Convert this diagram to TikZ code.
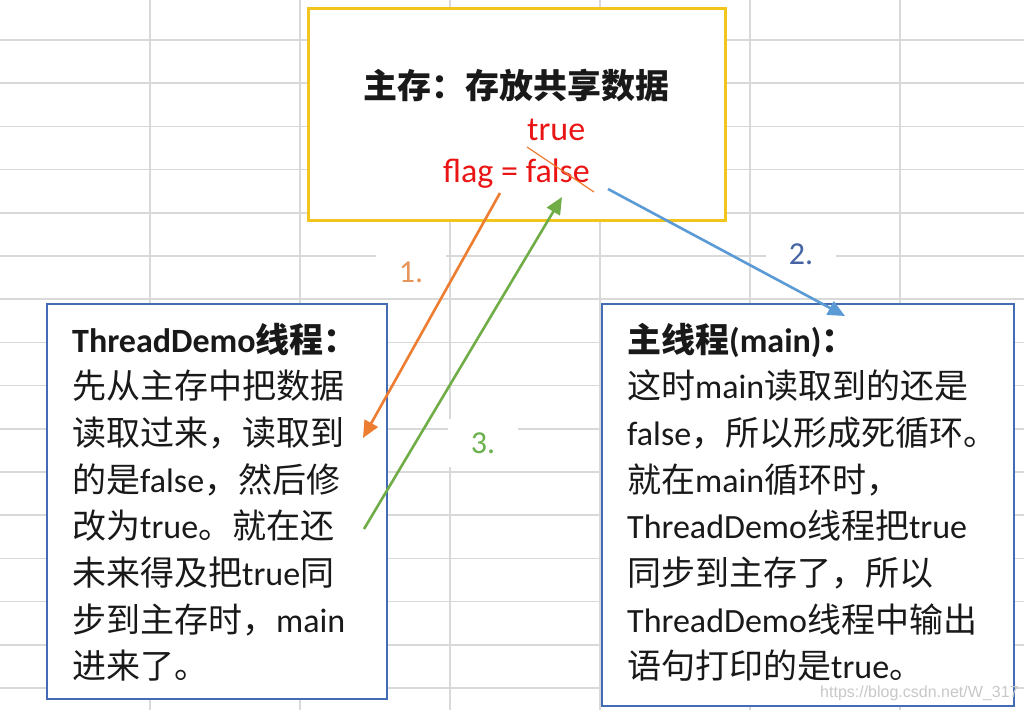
\documentclass[tikz,border=0pt]{standalone}
\usepackage{fontspec}
\setmainfont{Carlito}
\newfontfamily\cjk{Noto Sans CJK SC}
\newfontfamily\wmfont{Liberation Sans}
\usetikzlibrary{arrows.meta}
\definecolor{gridgray}{RGB}{217,217,217}
\definecolor{memyellow}{RGB}{242,196,30}
\definecolor{boxblue}{RGB}{68,108,180}
\definecolor{arrorange}{RGB}{237,125,49}
\definecolor{arrblue}{RGB}{91,155,213}
\definecolor{arrgreen}{RGB}{112,173,71}
\definecolor{lblorange}{RGB}{230,150,90}
\definecolor{lblblue}{RGB}{70,100,165}
\definecolor{lblgreen}{RGB}{106,176,76}
\definecolor{txt}{RGB}{25,25,25}
\definecolor{flagred}{RGB}{235,20,20}
\definecolor{wm}{RGB}{200,200,200}
\newcommand\zhc[1]{{\cjk #1}}
\begin{document}
\begin{tikzpicture}[x=1pt,y=-1pt,
  gridline/.style={draw=gridgray,line width=1.6pt},
  membox/.style={draw=memyellow,line width=3pt,fill=white,inner sep=0pt},
  threadbox/.style={draw=boxblue,line width=2.8pt,fill=white,inner sep=0pt},
  bodyline/.style={anchor=base west,inner sep=0pt,text=txt,font=\fontsize{34}{40}\selectfont},
  redtext/.style={anchor=base west,inner sep=0pt,text=flagred,font=\fontsize{34}{40}\selectfont},
  numlabel/.style={fill=white,minimum width=70pt,minimum height=48pt,inner sep=0pt,font=\fontsize{32}{36}\selectfont},
  conn/.style={line width=2.6pt,-{Triangle[length=17pt,width=15pt]}},
]
\useasboundingbox (0,0) rectangle (1024,710);
\fill[white] (0,0) rectangle (1024,710);
% spreadsheet grid
\foreach \x in {150,300,450,600,750,900}
  \draw[gridline] (\x,0) -- (\x,710);
\foreach \k in {0,...,15}
  \draw[gridline] (0,{40+43.2*\k}) -- (1024,{40+43.2*\k});

% boxes
\node[membox,minimum width=417pt,minimum height=212pt] (mem) at (516.5,114) {};
\node[threadbox,minimum width=340pt,minimum height=395pt] (td) at (217,501.5) {};
\node[threadbox,minimum width=412pt,minimum height=402pt] (mn) at (808,505) {};

% main memory texts
\node[anchor=base,inner sep=0pt,text=txt,font=\fontsize{34}{40}\selectfont\bfseries] (memtitle) at (516,98) {\zhc{主存：存放共享数据}};
\node[redtext] (newval) at (527,140) {true};
\node[redtext] (flag) at (443,182) {flag = false};
\coordinate (strikeA) at (527,147);
\coordinate (strikeB) at (594,192);
\draw[arrorange,line width=1.2pt] (strikeA) -- (strikeB);

% left box text
\node[bodyline,font=\fontsize{34}{40}\selectfont\bfseries] (l1) at (72,352) {ThreadDemo\zhc{线程：}};
\node[bodyline] (l2) at (72,398.7) {\zhc{先从主存中把数据}};
\node[bodyline] (l3) at (72,445.4) {\zhc{读取过来，读取到}};
\node[bodyline] (l4) at (72,492.1) {\zhc{的是}false\zhc{，然后修}};
\node[bodyline] (l5) at (72,538.8) {\zhc{改为}true\zhc{。就在还}};
\node[bodyline] (l6) at (72,585.5) {\zhc{未来得及把}true\zhc{同}};
\node[bodyline] (l7) at (72,632.2) {\zhc{步到主存时，}main};
\node[bodyline] (l8) at (72,678.9) {\zhc{进来了。}};

% right box text
\node[bodyline,font=\fontsize{34}{40}\selectfont\bfseries] (r1) at (627,352) {\zhc{主线程}(main)\zhc{：}};
\node[bodyline] (r2) at (627,398.7) {\zhc{这时}main\zhc{读取到的还是}};
\node[bodyline] (r3) at (627,445.4) {false\zhc{，所以形成死循环。}};
\node[bodyline] (r4) at (627,492.1) {\zhc{就在}main\zhc{循环时，}};
\node[bodyline] (r5) at (627,538.8) {ThreadDemo\zhc{线程把}true};
\node[bodyline] (r6) at (627,585.5) {\zhc{同步到主存了，所以}};
\node[bodyline] (r7) at (627,632.2) {ThreadDemo\zhc{线程中输出}};
\node[bodyline] (r8) at (627,678.9) {\zhc{语句打印的是}true\zhc{。}};

% step labels
\node[numlabel,text=lblorange] (n1) at (411,272) {1.};
\node[numlabel,text=lblblue] (n2) at (801,254) {2.};
\node[numlabel,text=lblgreen] (n3) at (483,443) {3.};

% arrows
\coordinate (a1s) at (500,193);
\coordinate (a1e) at (363,438);
\coordinate (a2s) at (608,189);
\coordinate (a2e) at (845,316);
\coordinate (a3s) at (364,529);
\coordinate (a3e) at (562,197);
\draw[conn,arrorange] (a1s) -- (a1e);
\draw[conn,arrblue] (a2s) -- (a2e);
\draw[conn,arrgreen] (a3s) -- (a3e);

% watermark
\node[anchor=base west,inner sep=0pt,text=wm,font=\wmfont\fontsize{16}{18}\selectfont] (wmark) at (820,697) {https://blog.csdn.net/W\_317};
\end{tikzpicture}
\end{document}
